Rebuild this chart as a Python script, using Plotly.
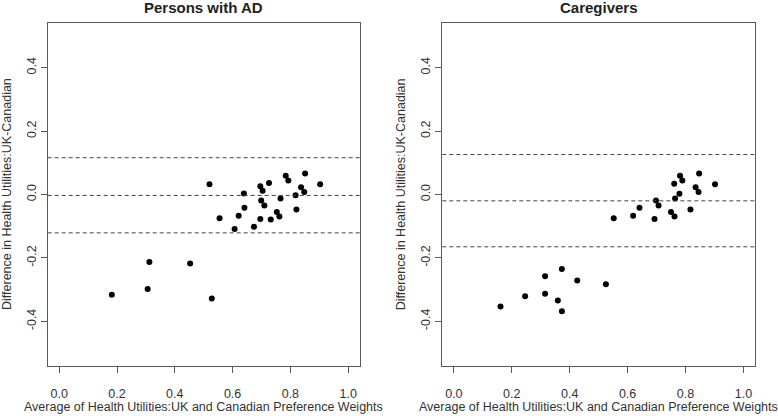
import plotly.graph_objects as go

# ---- Data ----
ad_avg = [0.182, 0.306, 0.312, 0.453, 0.528, 0.520, 0.555, 0.607, 0.621, 0.639,
          0.641, 0.674, 0.696, 0.696, 0.699, 0.704, 0.710, 0.726, 0.732, 0.753,
          0.762, 0.766, 0.784, 0.793, 0.818, 0.821, 0.837, 0.848, 0.851, 0.903]
ad_diff = [-0.316, -0.298, -0.213, -0.218, -0.328, 0.032, -0.075, -0.109, -0.067, 0.003,
           -0.042, -0.102, 0.026, -0.077, -0.019, 0.012, -0.035, 0.036, -0.079, -0.055,
           -0.069, -0.013, 0.059, 0.044, -0.002, -0.047, 0.023, 0.008, 0.066, 0.032]
ad_lines = [0.116, -0.003, -0.121]   # upper LoA, mean difference, lower LoA

cg_avg = [0.161, 0.246, 0.315, 0.315, 0.359, 0.373, 0.373, 0.426, 0.525, 0.552,
          0.619, 0.641, 0.693, 0.698, 0.707, 0.750, 0.761, 0.762, 0.764, 0.779,
          0.781, 0.789, 0.817, 0.835, 0.845, 0.847, 0.902]
cg_diff = [-0.353, -0.321, -0.258, -0.313, -0.334, -0.235, -0.368, -0.271, -0.283, -0.075,
           -0.067, -0.042, -0.077, -0.019, -0.035, -0.055, 0.034, -0.069, -0.013, 0.002,
           0.059, 0.044, -0.047, 0.023, 0.008, 0.066, 0.032]
cg_lines = [0.126, -0.020, -0.165]

titles = ["Persons with AD", "Caregivers"]
x_title = "Average of Health Utilities:UK and Canadian Preference Weights"
y_title = "Difference in Health Utilities:UK-Canadian"
x_ticks = [0.0, 0.2, 0.4, 0.6, 0.8, 1.0]
y_ticks = [-0.4, -0.2, 0.0, 0.2, 0.4]

# ---- Figure ----
W, H = 778, 416
FONT = "Liberation Sans, Arial, sans-serif"
TXT = "#333333"
BOX = "#5a5a5a"

fig = go.Figure()
fig.add_trace(go.Scatter(x=ad_avg, y=ad_diff, mode="markers", xaxis="x", yaxis="y",
                         marker=dict(size=6, color="black"), showlegend=False))
fig.add_trace(go.Scatter(x=cg_avg, y=cg_diff, mode="markers", xaxis="x2", yaxis="y2",
                         marker=dict(size=6, color="black"), showlegend=False))

def px_x(p):
    return p / W

def px_y(p):
    return 1 - p / H

box_top, box_bot = 23.3, 365.7
left_box = (47.7, 359.7)
right_box = (442.3, 755.0)

axis_common = dict(
    showgrid=False, zeroline=False, showline=True, mirror=True,
    linecolor=BOX, linewidth=1.3, ticks="outside", ticklen=6,
    tickcolor=BOX, tickwidth=1, tickfont=dict(family=FONT, size=12.5, color=TXT),
)

fig.update_layout(
    width=W, height=H,
    margin=dict(l=0, r=0, t=0, b=0),
    paper_bgcolor="white", plot_bgcolor="white",
    xaxis=dict(domain=[px_x(left_box[0]), px_x(left_box[1])], range=[-0.04, 1.04],
               tickvals=x_ticks, ticktext=[f"{v:.1f}" for v in x_ticks], anchor="y",
               ticklabelstandoff=10, **axis_common),
    yaxis=dict(domain=[px_y(box_bot), px_y(box_top)], range=[-0.54, 0.54],
               tickvals=y_ticks, ticktext=[f"{v:.1f}" for v in y_ticks], tickangle=-90,
               anchor="x", **axis_common),
    xaxis2=dict(domain=[px_x(right_box[0]), px_x(right_box[1])], range=[-0.04, 1.04],
                tickvals=x_ticks, ticktext=[f"{v:.1f}" for v in x_ticks], anchor="y2",
                ticklabelstandoff=10, **axis_common),
    yaxis2=dict(domain=[px_y(box_bot), px_y(box_top)], range=[-0.54, 0.54],
                tickvals=y_ticks, ticktext=[f"{v:.1f}" for v in y_ticks], tickangle=-90,
                anchor="x2", **axis_common),
)

# dashed reference lines
for xr, yr, vals in [("x domain", "y", ad_lines), ("x2 domain", "y2", cg_lines)]:
    for v in vals:
        fig.add_shape(type="line", xref=xr, yref=yr, x0=0, x1=1, y0=v, y1=v,
                      line=dict(color="#444444", width=1, dash="4px,3px"))

# titles and axis labels
annots = []
for (bx0, bx1), t, ylab_x in [(left_box, titles[0], 7.5), (right_box, titles[1], 401.8)]:
    cx = (bx0 + bx1) / 2
    annots.append(dict(text=f"<b>{t}</b>", x=px_x(cx), y=px_y(7.5), xref="paper", yref="paper",
                       xanchor="center", yanchor="middle", showarrow=False,
                       font=dict(family=FONT, size=15, color="#222222")))
    annots.append(dict(text=x_title, x=px_x(cx), y=px_y(406.5), xref="paper", yref="paper",
                       xanchor="center", yanchor="middle", showarrow=False,
                       font=dict(family=FONT, size=12.5, color=TXT)))
    annots.append(dict(text=y_title, x=px_x(ylab_x), y=px_y((box_top + box_bot) / 2),
                       xref="paper", yref="paper", xanchor="center", yanchor="middle",
                       textangle=-90, showarrow=False,
                       font=dict(family=FONT, size=12.5, color=TXT)))
fig.update_layout(annotations=annots)

fig.write_html("out.html", config={"displayModeBar": False},
               post_script="document.body.style.margin='0';document.body.style.overflow='hidden';")
